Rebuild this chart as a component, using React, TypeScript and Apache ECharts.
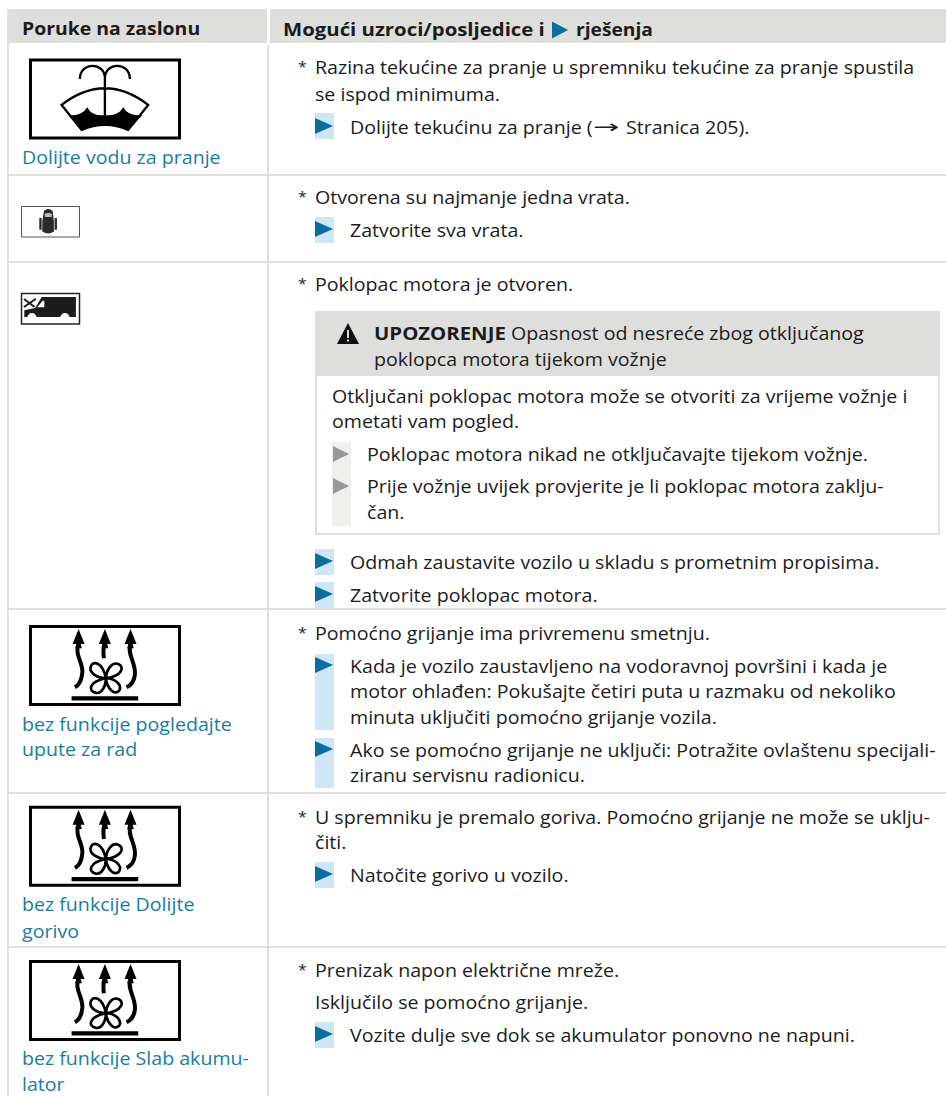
import React, { useEffect, useRef } from "react";
import * as echarts from "echarts";

const FONT = "'Open Sans', sans-serif";
const SIZE = 18.5;
const SX = 1.06;
const TEXT = "#1c1c1c";
const BLUE_TEXT = "#1a7ca3";
const BLUE = "#0b6f9e";
const BLUE_STRIP = "#cfe6f6";
const GRID = "#e0e0de";
const HEAD = "#dededc";

const headerLeft = "Poruke na zaslonu";
const headerRightA = "Mogući uzroci/posljedice i";
const headerRightB = "rješenja";

const leftLabels = [
  "Dolijte vodu za pranje",
  "bez funkcije pogledajte",
  "upute za rad",
  "bez funkcije Dolijte",
  "gorivo",
  "bez funkcije Slab akumu-",
  "lator",
];
const leftLabelY = [157, 724, 749, 904, 931, 1058, 1084];
const starred = [
  "Razina tekućine za pranje u spremniku tekućine za pranje spustila",
  "Otvorena su najmanje jedna vrata.",
  "Poklopac motora je otvoren.",
  "Pomoćno grijanje ima privremenu smetnju.",
  "U spremniku je premalo goriva. Pomoćno grijanje ne može se uklju-",
  "Prenizak napon električne mreže.",
];
const starredY = [67, 197, 284, 633, 817, 970];
const plain = ["se ispod minimuma.", "čiti.", "Isključilo se pomoćno grijanje."];
const plainY = [94, 842, 1002];
const steps = [
  "Dolijte tekućinu za pranje (",
  "Zatvorite sva vrata.",
  "Odmah zaustavite vozilo u skladu s prometnim propisima.",
  "Zatvorite poklopac motora.",
  "Kada je vozilo zaustavljeno na vodoravnoj površini i kada je",
  "Ako se pomoćno grijanje ne uključi: Potražite ovlaštenu specijali-",
  "Natočite gorivo u vozilo.",
  "Vozite dulje sve dok se akumulator ponovno ne napuni.",
];
const stepY = [127, 230, 562, 595, 666, 750, 875, 1035];
const arrowGlyph = "→";
const pageRef = "Stranica 205).";
const continuation = [
  "motor ohlađen: Pokušajte četiri puta u razmaku od nekoliko",
  "minuta uključiti pomoćno grijanje vozila.",
  "ziranu servisnu radionicu.",
];
const continuationY = [691, 717, 775];
const warnTitle = "UPOZORENJE";
const warnA = "Opasnost od nesreće zbog otključanog";
const warnB = "poklopca motora tijekom vožnje";
const warnBody = [
  "Otključani poklopac motora može se otvoriti za vrijeme vožnje i",
  "ometati vam pogled.",
];
const warnBodyY = [396, 421];
const warnSteps = [
  "Poklopac motora nikad ne otključavajte tijekom vožnje.",
  "Prije vožnje uvijek provjerite je li poklopac motora zaklju-",
  "čan.",
];
const warnStepY = [454, 486, 512];
const rowLines = [175, 262, 609, 793, 947];
const blueStrips = [
  [113, 139],
  [217, 243],
  [549, 575],
  [582, 608],
  [654, 730],
  [738, 788],
  [862, 888],
  [1022, 1048],
];

const WASHER =
  "M240,237C240,185 315,185 315,235C315,185 390,185 390,237M315,235L315,345M185,315Q315,215 445,315L385,390Q315,360 245,390Z";
const WASHER_FILL =
  "M205,345Q245,350 262,322Q275,350 315,345Q355,350 370,322Q385,350 428,345L385,390Q315,360 245,390Z";
const HEAT_STROKE =
  "M236,100C222,135 252,160 247,190C245,210 238,225 225,232M315,100C308,115 310,130 312,145M392,100C380,135 410,160 405,195C403,212 395,225 380,232";
const FAN =
  "M318,205C295,205 268,190 272,172C277,150 308,155 318,205C320,180 335,155 355,162C375,170 368,198 318,205C345,205 368,225 358,242C345,258 322,238 318,205C318,230 305,252 288,249C262,243 268,215 318,205";
const HEAT_FILL =
  "M236,57L218,102L230,102L226,115L246,115L242,102L254,102ZM315,57L297,102L308,102L305,115L325,115L322,102L333,102ZM392,57L374,102L386,102L382,115L402,115L398,102L410,102ZM215,259L415,259L415,272L215,272Z";
const CAR =
  "M132,634Q145,622 158,634L162,665L162,695Q145,708 127,695L127,665ZM118,655L125,655L125,690L118,690ZM164,655L171,655L171,690L164,690Z";
const CAR_GLASS = "M134,642Q145,637 156,642L155,652L135,652Z";
const VAN = "M73,952L73,932L106,925L125,892L228,892L228,952Z";
const VAN_WHITE =
  "M112,923L128,903L133,903L133,923ZM82,954a14,14 0 1,0 28,0a14,14 0 1,0 -28,0ZM181,954a14,14 0 1,0 28,0a14,14 0 1,0 -28,0Z";
const VAN_HOOD = "M72,898L104,922M72,922L108,897";

const SHAPES: [string, string][] = [
  ["washer", WASHER],
  ["washerFill", WASHER_FILL],
  ["heatS", HEAT_STROKE],
  ["fan", FAN],
  ["heatF", HEAT_FILL],
  ["car", CAR],
  ["carGlass", CAR_GLASS],
  ["van", VAN],
  ["vanWhite", VAN_WHITE],
  ["hood", VAN_HOOD],
];
SHAPES.forEach(([n, d]) => echarts.graphic.registerShape(n, echarts.graphic.extendPath(d, {})));

const rect = (x: number, y: number, w: number, h: number, fill: string, stroke?: string, lineWidth = 0) => ({
  type: "rect", shape: { x, y, width: w, height: h },
  style: { fill, stroke, lineWidth },
});
const text = (s: string, x: number, y: number, o: any = {}) => ({
  type: "text", x, y, scaleX: o.sx || SX,
  style: {
    text: s, fill: o.fill || TEXT, font: `${o.weight || 400} ${o.size || SIZE}px ${o.font || FONT}`,
    verticalAlign: "middle", align: "left",
  },
});
const tri = (x: number, cy: number, w: number, h: number, fill: string) => ({
  type: "polygon", shape: { points: [[x, cy - h / 2], [x + w, cy], [x, cy + h / 2]] }, style: { fill },
});
const icon = (kind: string, y: number, style: any) => ({
  type: kind, x: 0, y, scaleX: 1 / 3, scaleY: 1 / 3, style,
});
const heater = (y: number) => [
  rect(30.5, y + 16.5, 149, 78, "#fff", "#000", 3),
  icon("heatS", y, { fill: "none", stroke: "#000", lineWidth: 12 }),
  icon("fan", y, { fill: "none", stroke: "#000", lineWidth: 8 }),
  icon("heatF", y, { fill: "#000" }),
];

function buildGraphics() {
  const g: any[] = [];
  g.push(rect(9, 9, 258, 34, HEAD), rect(270, 9, 676, 34, HEAD));
  g.push(rect(7, 9, 2, 1087, GRID), rect(267, 45, 2, 1051, GRID));
  rowLines.forEach((y) => g.push(rect(9, y - 1, 937, 2, GRID)));
  g.push(text(headerLeft, 22, 28, { weight: 700, sx: 1.05 }));
  g.push(text(headerRightA, 283, 29, { weight: 700, sx: 1.1 }));
  g.push(tri(552, 30, 16, 17, BLUE));
  g.push(text(headerRightB, 576, 29, { weight: 700, sx: 1.04 }));

  leftLabels.forEach((s, i) => g.push(text(s, 22, leftLabelY[i], { fill: BLUE_TEXT })));
  starred.forEach((s, i) => {
    g.push(text("*", 298, starredY[i] - 1, { size: 15 }));
    g.push(text(s, 315, starredY[i]));
  });
  plain.forEach((s, i) => g.push(text(s, 315, plainY[i])));
  blueStrips.forEach(([a, b]) => g.push(rect(315, a, 19, b - a, BLUE_STRIP)));
  steps.forEach((s, i) => {
    g.push(tri(315, stepY[i] - 1, 18, 16, BLUE));
    g.push(text(s, 350, stepY[i]));
  });
  g.push(text(arrowGlyph, 593, 127, { font: "'DejaVu Sans'", size: 18, sx: 1.75 }));
  g.push(text(pageRef, 626, 127));
  continuation.forEach((s, i) => g.push(text(s, 350, continuationY[i])));

  g.push(rect(316, 312, 623, 222, "#fff", GRID, 2));
  g.push(rect(315, 311, 625, 65, HEAD));
  g.push({ type: "polygon", shape: { points: [[348, 323], [359, 344], [337, 344]] }, style: { fill: "#111" } });
  g.push(rect(347, 330, 2, 8, "#dededc"), rect(347, 339.5, 2, 2, "#dededc"));
  g.push(text(warnTitle, 374, 333, { weight: 700, sx: 1.1 }));
  g.push(text(warnA, 511, 333));
  g.push(text(warnB, 374, 359));
  warnBody.forEach((s, i) => g.push(text(s, 332, warnBodyY[i])));
  g.push(rect(332, 442, 19, 84, "#efefed"));
  warnSteps.forEach((s, i) => g.push(text(s, 367, warnStepY[i])));
  g.push(tri(333, 454, 16, 16, "#999"), tri(333, 486, 16, 16, "#999"));

  // Washer icon
  g.push(rect(30.5, 60, 149, 78, "#fff", "#000", 3));
  g.push(icon("washerFill", 0, { fill: "#000" }));
  g.push(icon("washer", 0, { fill: "none", stroke: "#000", lineWidth: 7 }));
  // Door icon
  g.push(rect(21.5, 206.5, 58, 30.5, "#fff", "#555", 1));
  g.push(icon("car", 0, { fill: "#2a2a2a" }));
  g.push(icon("carGlass", 0, { fill: "#bbb" }));
  // Van icon
  g.push(rect(21.5, 293.5, 58, 30.5, "#fff", "#222", 1.5));
  g.push(icon("van", 0, { fill: "#1c1c1c" }));
  g.push(icon("vanWhite", 0, { fill: "#fff" }));
  g.push(icon("hood", 0, { fill: "none", stroke: "#1c1c1c", lineWidth: 6 }));
  // Heater icons
  g.push(...heater(610), ...heater(790.7), ...heater(945));
  return g;
}

export default function App() {
  const ref = useRef<HTMLDivElement>(null);
  useEffect(() => {
    const chart = echarts.init(ref.current!, undefined, { renderer: "svg" });
    chart.setOption({ animation: false, graphic: { elements: buildGraphics() } });
    return () => chart.dispose();
  }, []);
  return <div ref={ref} style={{ width: 946, height: 1096, position: "absolute", left: 0, top: 0 }} />;
}
